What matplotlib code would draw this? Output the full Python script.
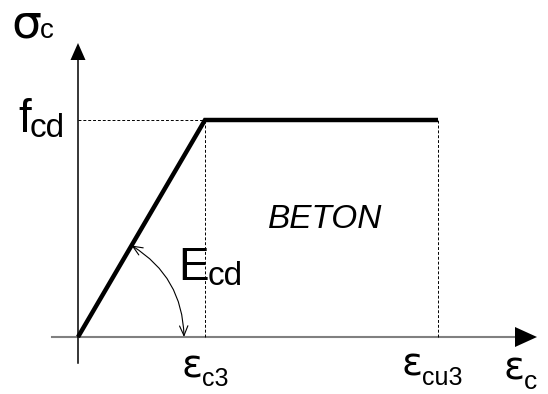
import numpy as np
import matplotlib
matplotlib.use("Agg")
import matplotlib.pyplot as plt
from matplotlib.patches import Polygon

plt.rcParams["font.family"] = ["Liberation Sans", "DejaVu Sans"]

# idealised concrete stress-strain diagram (bilinear), in drawing units
strain = [0, 127, 360]        # 0, eps_c3, eps_cu3
stress = [0, 217, 217]        # 0, f_cd, f_cd
eps_c3, eps_cu3 = strain[1], strain[2]
f_cd = stress[1]

fig = plt.figure(figsize=(5.48, 3.94), dpi=100)
ax = fig.add_axes([0, 0, 1, 1])
ax.set_xlim(-78, 470)
ax.set_ylim(-57, 337)
ax.axis("off")

# axes
x_end, y_end = 459, 294
ax.plot([-26, x_end - 20], [0, 0], color="#808080", lw=1.5, zorder=1)
ax.plot([0, 0], [-26, y_end - 15], color="black", lw=1.1, zorder=1)
ax.add_patch(Polygon([[x_end, 0], [x_end - 22, 10], [x_end - 22, -10]],
                     closed=True, color="black", lw=0))
ax.add_patch(Polygon([[0, y_end], [-7.5, y_end - 17], [7.5, y_end - 17]],
                     closed=True, color="black", lw=0))

# guide lines
dash = (0, (3, 2))
ax.plot([0, eps_c3], [f_cd, f_cd], color="black", lw=0.7, ls=dash)
ax.plot([eps_c3, eps_c3], [0, f_cd], color="black", lw=0.7, ls=dash)
ax.plot([eps_cu3, eps_cu3], [0, f_cd], color="black", lw=0.7, ls=dash)

# stress-strain curve
ax.plot(strain, stress, color="black", lw=3.2, solid_capstyle="butt",
        solid_joinstyle="miter", zorder=3)

# angle marker for the modulus
r_arc = 106
theta = np.arctan2(f_cd, eps_c3)
ax.annotate("", xy=(r_arc * np.cos(theta), r_arc * np.sin(theta)),
            xytext=(r_arc, 0),
            arrowprops=dict(arrowstyle="<->,head_length=0.7,head_width=0.3",
                            connectionstyle="arc3,rad=0.27",
                            shrinkA=0, shrinkB=0, lw=0.8, color="black"))

fig.canvas.draw()
renderer = fig.canvas.get_renderer()


def label(x, y, main, sub, size, subsize, drop, family=None):
    t = ax.text(x, y, main, fontsize=size, ha="left", va="baseline",
                family=family)
    bb = t.get_window_extent(renderer)
    x1 = ax.transData.inverted().transform((bb.x1, 0))[0]
    ax.text(x1 - 1, y - drop, sub, fontsize=subsize, ha="left",
            va="baseline")


greek = ["DejaVu Sans"]
label(-67, 300, "σ", "c", 34, 20, 1, greek)
label(-60, 205, "f", "cd", 33, 24, 5)
label(100, 57, "E", "cd", 33, 24, 5)
label(104, -40, "ε", "c3", 28, 18, 9, greek)
label(324, -38, "ε", "cu3", 28, 18, 10, greek)
label(426, -42, "ε", "c", 28, 19, 10, greek)

ax.text(190, 109, "BETON", fontsize=24, style="italic", ha="left",
        va="baseline")

fig.savefig("out.png", dpi=100)
